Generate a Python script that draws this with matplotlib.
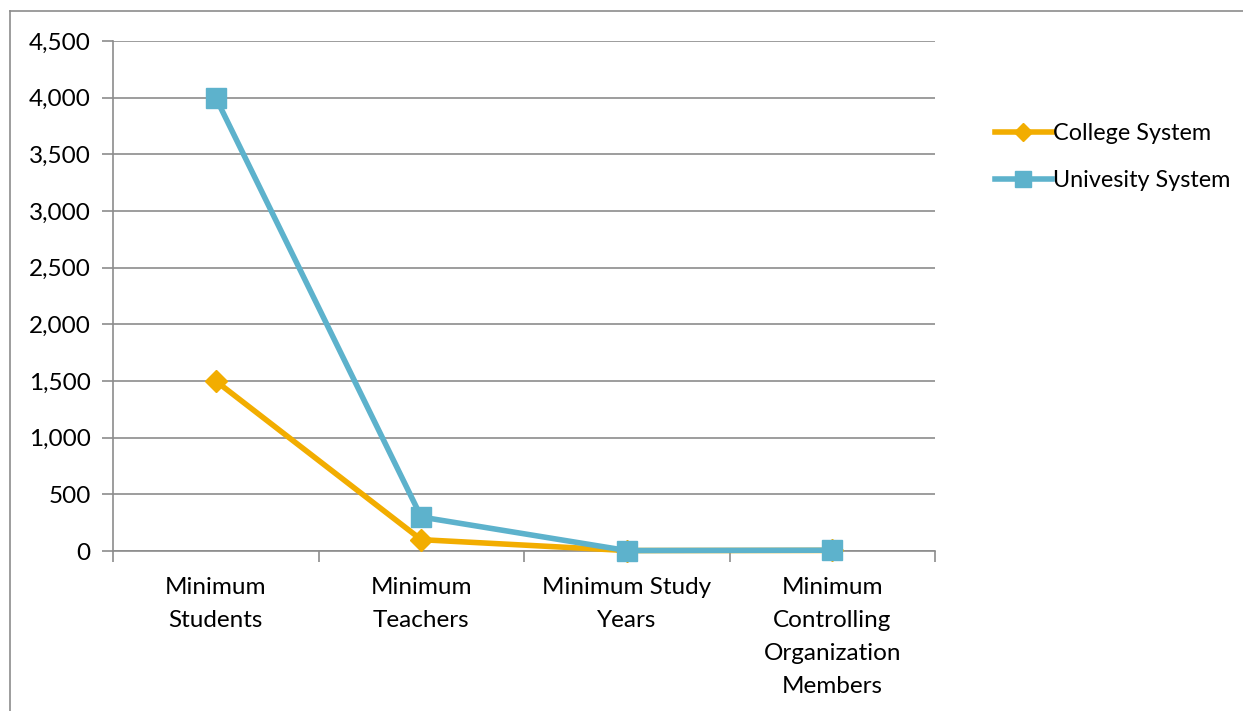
import matplotlib
matplotlib.use("Agg")
import matplotlib.pyplot as plt
from matplotlib.lines import Line2D
from matplotlib.ticker import FuncFormatter, MultipleLocator

categories = ["Minimum\nStudents", "Minimum\nTeachers", "Minimum Study\nYears",
              "Minimum\nControlling\nOrganization\nMembers"]
college = [1500, 100, 4, 5]
university = [4000, 300, 4, 7]
series_names = ["College System", "Univesity System"]

plt.rcParams['font.family'] = ['Lato', 'DejaVu Sans']
FS = 17.5

fig = plt.figure(figsize=(12.43, 7.11), dpi=100)
ax = fig.add_axes([113/1243, 1-551/711, (935-113)/1243, (551-41)/711])

x = list(range(len(categories)))
orange = "#F2AD00"
blue = "#5DB2CC"
ax.plot(x, college, color=orange, lw=4.0, marker="D", markersize=11, label=series_names[0],
        zorder=3, clip_on=False)
ax.plot(x, university, color=blue, lw=4.0, marker="s", markersize=14.5, label=series_names[1],
        zorder=4, clip_on=False)

ax.set_xlim(-0.5, len(categories) - 0.5)
ax.set_ylim(0, 4500)
ax.yaxis.set_major_locator(MultipleLocator(500))
ax.yaxis.set_major_formatter(FuncFormatter(lambda v, p: f"{int(v):,}"))
ax.grid(axis="y", color="#8c8c8c", lw=1.2)
ax.set_axisbelow(True)

for s in ["top", "right"]:
    ax.spines[s].set_visible(False)
for s in ["left", "bottom"]:
    ax.spines[s].set_color("#8c8c8c")
    ax.spines[s].set_linewidth(1.2)

ax.set_xticks(x)
ax.set_xticklabels(categories, fontsize=FS, linespacing=1.7)
ax.tick_params(axis="x", length=0, pad=19)
ax.set_xticks([i - 0.5 for i in range(len(categories) + 1)], minor=True)
ax.tick_params(axis="x", which="minor", length=8, color="#8c8c8c", width=1.2, direction="out")
ax.tick_params(axis="y", length=8, color="#8c8c8c", width=1.2, labelsize=FS, pad=8)

leg = ax.legend(loc="upper left", bbox_to_anchor=(1.047, 0.88), frameon=False,
                fontsize=16.8, handlelength=2.45, handletextpad=0.05, labelspacing=1.1,
                markerscale=0.8)

# outer border
fig.add_artist(Line2D([10/1243, 1.0], [1-11/711, 1-11/711], color="#8c8c8c", lw=1.2, transform=fig.transFigure))
fig.add_artist(Line2D([10/1243, 10/1243], [0, 1-11/711], color="#8c8c8c", lw=1.2, transform=fig.transFigure))

fig.savefig("out.png", dpi=100)
